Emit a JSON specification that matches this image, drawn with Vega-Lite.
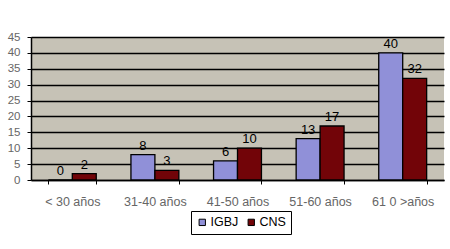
{
  "$schema": "https://vega.github.io/schema/vega-lite/v6.json",
  "width": 413,
  "height": 143,
  "autosize": "none",
  "padding": {"left": 31, "top": 37, "right": 6, "bottom": 69},
  "background": "white",
  "data": {"values": [
    {"grupo": "< 30 años", "serie": "IGBJ", "valor": 0},
    {"grupo": "< 30 años", "serie": "CNS", "valor": 2},
    {"grupo": "31-40 años", "serie": "IGBJ", "valor": 8},
    {"grupo": "31-40 años", "serie": "CNS", "valor": 3},
    {"grupo": "41-50 años", "serie": "IGBJ", "valor": 6},
    {"grupo": "41-50 años", "serie": "CNS", "valor": 10},
    {"grupo": "51-60 años", "serie": "IGBJ", "valor": 13},
    {"grupo": "51-60 años", "serie": "CNS", "valor": 17},
    {"grupo": "61 0 >años", "serie": "IGBJ", "valor": 40},
    {"grupo": "61 0 >años", "serie": "CNS", "valor": 32}
  ]},
  "encoding": {
    "x": {
      "field": "grupo", "type": "nominal", "sort": null, "title": null,
      "scale": {"paddingInner": 0.42, "paddingOuter": 0.21},
      "axis": {
        "labelAngle": 0, "labelFont": "Liberation Sans", "labelFontSize": 12.5, "labelColor": "#666666",
        "labelPadding": 11, "tickBand": "extent", "tickColor": "black", "tickSize": 4,
        "domainColor": "black", "domainWidth": 1.5
      }
    },
    "xOffset": {"field": "serie", "type": "nominal", "sort": ["IGBJ", "CNS"], "scale": {"paddingInner": 0, "paddingOuter": 0}},
    "y": {
      "field": "valor", "type": "quantitative", "title": null,
      "scale": {"domain": [0, 45], "nice": false},
      "axis": {
        "values": [0, 5, 10, 15, 20, 25, 30, 35, 40, 45],
        "labelFont": "Liberation Sans", "labelFontSize": 11.5, "labelColor": "#666666",
        "labelPadding": 7, "tickSize": 4, "tickColor": "black",
        "gridColor": "black", "gridWidth": 1.3, "gridOpacity": 1,
        "domainColor": "black", "domainWidth": 1.5
      }
    }
  },
  "layer": [
    {
      "mark": {"type": "bar", "stroke": "black", "strokeWidth": 1.3},
      "encoding": {
        "color": {
          "field": "serie", "type": "nominal", "sort": ["IGBJ", "CNS"],
          "scale": {"domain": ["IGBJ", "CNS"], "range": ["#9090d8", "#720408"]},
          "legend": {
            "title": null, "orient": "none", "direction": "horizontal",
            "legendX": 160, "legendY": 174,
            "strokeColor": "black", "padding": 5,
            "symbolType": "square", "symbolSize": 40, "symbolStrokeColor": "black", "symbolStrokeWidth": 1,
            "labelFont": "Liberation Sans", "labelFontSize": 12.5, "labelColor": "black",
            "labelOffset": 2, "columnPadding": 6
          }
        }
      }
    },
    {
      "mark": {"type": "text", "dy": -9, "font": "Liberation Sans", "fontSize": 13, "color": "black"},
      "encoding": {"text": {"field": "valor", "type": "quantitative"}}
    }
  ],
  "config": {
    "view": {"fill": "#c6c2b6", "stroke": null}
  }
}
